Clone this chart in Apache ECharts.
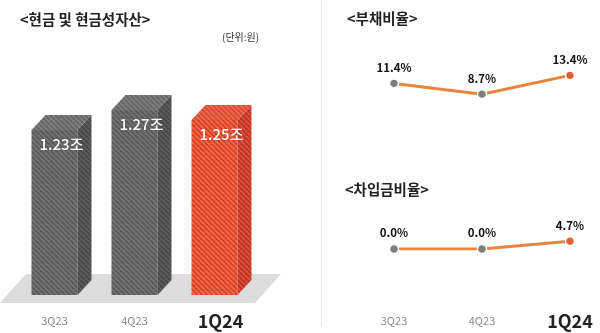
<!DOCTYPE html>
<html>
<head>
<meta charset="utf-8">
<script src="https://cdn.jsdelivr.net/npm/echarts@6/dist/echarts.min.js"></script>
<style>
  html, body { margin: 0; padding: 0; background: #ffffff; }
  #chart { width: 600px; height: 333px; }
</style>
</head>
<body>
<div id="chart"></div>
<script>
// Quarter labels shared by all three panels
const quarters = ['3Q23', '4Q23', '1Q24'];
// 현금 및 현금성자산 (조 원)
const cashAssets = [1.23, 1.27, 1.25];
// 부채비율 (%)
const debtRatio = [11.4, 8.7, 13.4];
// 차입금비율 (%)
const borrowingRatio = [0.0, 0.0, 4.7];

const FONT = '"Noto Sans CJK KR", "Noto Sans", sans-serif';
const CASH_MIN = 0.9;

// Diagonal-striped fill used on the faces of the 3D bars
function stripes(base, line) {
  const s = 5;
  const c = document.createElement('canvas');
  c.width = s; c.height = s;
  const g = c.getContext('2d');
  g.fillStyle = base;
  g.fillRect(0, 0, s, s);
  g.strokeStyle = line;
  g.lineWidth = 2;
  for (const k of [-s, 0, s]) {
    g.beginPath();
    g.moveTo(k, 0);
    g.lineTo(k + s, s);
    g.stroke();
  }
  return { image: c, repeat: 'repeat' };
}

const greyFaces = {
  front: stripes('#767676', '#5a5a5a'),
  side: stripes('#5e5e5e', '#484848'),
  top: stripes('#808080', '#666666')
};
const redFaces = {
  front: stripes('#dc3631', '#ee6e3e'),
  side: stripes('#c02d2a', '#d85437'),
  top: stripes('#d9453f', '#ea6c41')
};

// Extruded bar: front rect, right side and top cap, value label on the front
function renderBox(params, api) {
  const i = params.dataIndex;
  const val = api.value(1);
  const top = api.coord([api.value(0), val]);
  const base = api.coord([api.value(0), CASH_MIN]);
  const w = 46, dx = 14, dy = 15;
  const x0 = top[0] - w / 2, x1 = top[0] + w / 2;
  const yt = top[1], yb = base[1];
  const f = i === quarters.length - 1 ? redFaces : greyFaces;
  return {
    type: 'group',
    children: [
      { type: 'rect', shape: { x: x0, y: yt, width: w, height: yb - yt }, style: { fill: f.front } },
      { type: 'polygon', shape: { points: [[x1, yt], [x1 + dx, yt - dy], [x1 + dx, yb - dy], [x1, yb]] }, style: { fill: f.side } },
      { type: 'polygon', shape: { points: [[x0, yt], [x0 + dx, yt - dy], [x1 + dx, yt - dy], [x1, yt]] }, style: { fill: f.top } },
      {
        type: 'text', x: top[0] + dx / 2, y: yt + 14,
        style: {
          text: val.toFixed(2) + '조', fill: '#ffffff',
          font: '500 15px ' + FONT, align: 'center', verticalAlign: 'middle',
          textShadowColor: 'rgba(0,0,0,0.3)', textShadowBlur: 2
        }
      }
    ]
  };
}

function quarterLabels(margin, lastPad) {
  return {
    margin: margin,
    verticalAlign: 'middle',
    formatter: (v, i) => (i === quarters.length - 1 ? '{hi|' + v + '}' : '{lo|' + v + '}'),
    rich: {
      lo: { fontSize: 11, color: '#8a8a8a', fontFamily: FONT },
      hi: { fontSize: 18, fontWeight: 'bold', color: '#222222', fontFamily: FONT, padding: [0, 0, 0, lastPad] }
    }
  };
}

function ratioSeries(values, axis) {
  return {
    type: 'line',
    xAxisIndex: axis, yAxisIndex: axis,
    data: values.map((v, i) => (i === values.length - 1
      ? { value: v, itemStyle: { color: '#e85a33' } }
      : v)),
    symbol: 'circle', symbolSize: 9,
    lineStyle: { color: '#e8843c', width: 3 },
    itemStyle: { color: '#7d7d7d', borderColor: '#ffffff', borderWidth: 1.5 },
    label: {
      show: true, position: 'top', distance: 5,
      formatter: p => p.value.toFixed(1) + '%',
      fontSize: 11.5, fontWeight: 'bold', color: '#111111', fontFamily: FONT
    },
    emphasis: { disabled: true },
    z: 3
  };
}

const titleStyle = { fontSize: 14.5, fontWeight: 'bold', color: '#222222', fontFamily: FONT };

const chart = echarts.init(document.getElementById('chart'));
chart.setOption({
  animation: false,
  backgroundColor: '#ffffff',
  title: [
    { text: '<현금 및 현금성자산>', left: 15, top: 7, textStyle: titleStyle },
    { text: '(단위:원)', left: 217, top: 27, textStyle: { fontSize: 10, fontWeight: 'normal', color: '#333333', fontFamily: FONT } },
    { text: '<부채비율>', left: 342, top: 6, textStyle: titleStyle },
    { text: '<차입금비율>', left: 340, top: 177, textStyle: titleStyle }
  ],
  graphic: [
    { type: 'polygon', z: -1, shape: { points: [[26, 274], [281, 274], [255, 303], [0, 303]] }, style: { fill: '#dcdcdc' } },
    { type: 'line', z: -1, shape: { x1: 321.5, y1: 0, x2: 321.5, y2: 326 }, style: { stroke: '#e8e8e8', lineWidth: 1 } }
  ],
  grid: [
    { left: 14.5, top: 45, width: 240, height: 250 },
    { left: 394, top: 49, width: 176, height: 80 },
    { left: 394, top: 209, width: 176, height: 40 }
  ],
  xAxis: [
    { gridIndex: 0, type: 'category', data: quarters, axisLine: { show: false }, axisTick: { show: false }, axisLabel: quarterLabels(26, 12) },
    { gridIndex: 1, type: 'category', data: quarters, boundaryGap: false, axisLine: { show: false }, axisTick: { show: false }, axisLabel: { show: false } },
    { gridIndex: 2, type: 'category', data: quarters, boundaryGap: false, axisLine: { show: false }, axisTick: { show: false }, axisLabel: quarterLabels(72, 0) }
  ],
  yAxis: [
    { gridIndex: 0, type: 'value', min: CASH_MIN, max: 1.4, show: false },
    { gridIndex: 1, type: 'value', min: 0, max: 20, show: false },
    { gridIndex: 2, type: 'value', min: 0, max: 24, show: false }
  ],
  series: [
    {
      type: 'custom', xAxisIndex: 0, yAxisIndex: 0,
      data: cashAssets.map((v, i) => [i, v]),
      encode: { x: 0, y: 1 },
      renderItem: renderBox,
      z: 2
    },
    ratioSeries(debtRatio, 1),
    ratioSeries(borrowingRatio, 2)
  ]
});
</script>
</body>
</html>
